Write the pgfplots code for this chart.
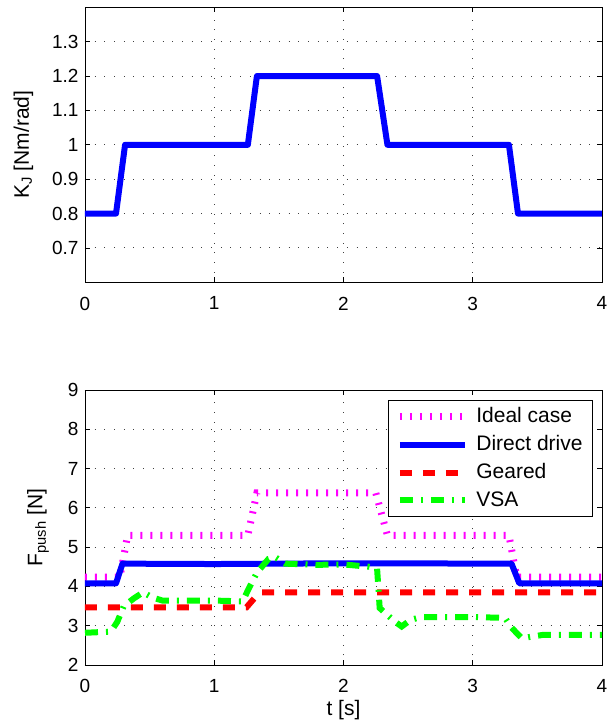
\documentclass[border=0pt]{standalone}
\usepackage{fontspec}
\setmainfont{Liberation Sans}
\usepackage{pgfplots}
\pgfplotsset{compat=1.18}
\definecolor{idealc}{rgb}{1,0,1}
\definecolor{directc}{rgb}{0,0,1}
\definecolor{gearedc}{rgb}{1,0,0}
\definecolor{vsac}{rgb}{0,1,0}
\begin{document}
\fontsize{19}{22}\selectfont
\begin{tikzpicture}
\pgfplotsset{
  every axis/.append style={
    scale only axis, width=517pt, height=275pt,
    xmin=0, xmax=4, xtick={0,1,2,3,4},
    axis line style={line width=0.9pt},
    tick align=inside, tick pos=both,
    major tick length=5pt,
    tick style={line width=0.8pt, black},
    grid=major,
    major grid style={line width=0.9pt, black!75, dash pattern=on 0.9pt off 8.8pt},
    /pgf/number format/assume math mode=true,
    ticklabel style={font=\fontsize{19}{22}\selectfont},
    xticklabel style={yshift=-8pt},
    label style={font=\fontsize{21}{24}\selectfont},
    xlabel style={yshift=6pt},
    ylabel shift=6pt,
  },
  legend image code/.code={\draw[#1] (0pt,0pt) -- (65pt,0pt);},
}
\begin{axis}[at={(0,0)}, anchor=north west,
  ymin=0.6, ymax=1.4, ytick={0.7,0.8,0.9,1,1.1,1.2,1.3},
  ylabel={K\textsubscript{J} [Nm/rad]}]
\addplot[directc, line width=6pt, line join=round] coordinates {
(0,0.8) (0.24,0.8) (0.31,1.0) (1.26,1.0) (1.33,1.2) (2.26,1.2) (2.34,1.0) (3.28,1.0) (3.35,0.8) (4,0.8)};
\end{axis}
\begin{axis}[at={(0,-382.7pt)}, anchor=north west,
  ymin=2, ymax=9, ytick={2,3,4,5,6,7,8,9},
  xlabel={t [s]}, ylabel={F\textsubscript{push} [N]},
  legend style={at={(1,1)}, anchor=north east, xshift=-9pt, yshift=-10pt,
    draw=black, line width=0.9pt, fill=white, font=\fontsize{21}{24}\selectfont,
    inner xsep=8pt, inner ysep=5pt, row sep=6pt, column sep=6pt},
  legend cell align=left]
\addplot[idealc, line width=7pt, dash pattern=on 2pt off 8pt] coordinates {
(0,4.24) (0.27,4.24) (0.33,5.3) (1.26,5.3) (1.33,6.38) (2.25,6.38) (2.34,5.3) (3.28,5.3) (3.34,4.24) (4,4.24)};
\addlegendentry{Ideal case}
\addplot[directc, line width=6pt, line join=round] coordinates {
(0,4.08) (0.24,4.08) (0.29,4.58) (1.0,4.57) (2.0,4.59) (3.30,4.58) (3.36,4.08) (4,4.08)};
\addlegendentry{Direct drive}
\addplot[gearedc, line width=6pt, dash pattern=on 12pt off 11pt] coordinates {
(0,3.47) (1.25,3.47) (1.35,3.85) (4,3.85)};
\addlegendentry{Geared}
\addplot[vsac, line width=6pt, dash pattern=on 13pt off 8pt on 2pt off 8pt] coordinates {
(0,2.82) (0.2,2.85) (0.25,3.1) (0.3,3.5) (0.38,3.7) (0.45,3.85) (0.52,3.72) (0.6,3.64) (0.8,3.64) (1.0,3.64) (1.22,3.62) (1.26,3.9) (1.33,4.35) (1.42,4.7) (1.47,4.75) (1.55,4.58) (1.8,4.55) (2.0,4.56) (2.2,4.5) (2.26,4.45) (2.28,3.45) (2.33,3.3) (2.4,3.1) (2.45,2.98) (2.52,3.15) (2.6,3.22) (3.0,3.22) (3.25,3.2) (3.3,2.95) (3.38,2.68) (3.45,2.72) (3.55,2.77) (4,2.77)};
\addlegendentry{VSA}
\end{axis}
\pgfresetboundingbox
\path[use as bounding box] (-85pt,7.3pt) rectangle (523pt,-716.7pt);
\end{tikzpicture}
\end{document}
